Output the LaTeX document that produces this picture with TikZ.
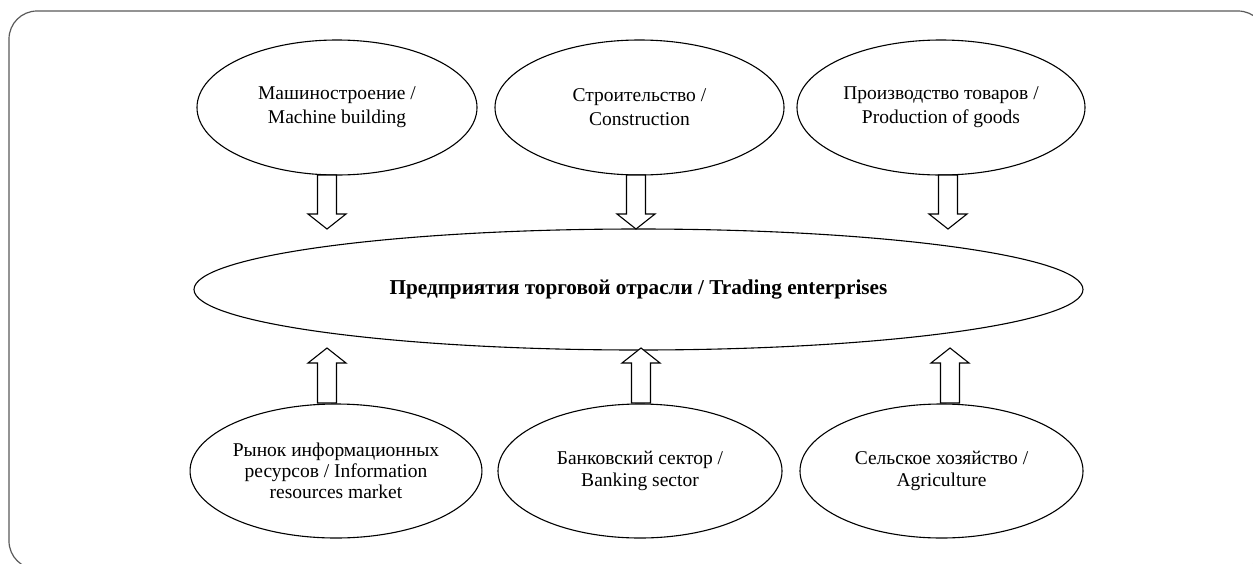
\documentclass[tikz,border=0pt]{standalone}
\usepackage{fontspec}
\setmainfont{Liberation Serif}
\usetikzlibrary{shapes.geometric,calc}
\tikzset{
  ell/.style={ellipse, draw=black, line width=1.1pt, inner sep=0pt, align=center,
    font=\fontsize{19.5}{24}\selectfont},
  frame/.style={draw=black!65, line width=1.2pt, rounded corners=28pt},
  barrow/.style={draw=black, line width=1.1pt, fill=white, line join=miter},
}
\newcommand\blockarr[2]{%
  \coordinate (hb) at ($(#2)!15pt!(#1)$);
  \draw[barrow] ($(#1)+(-9.5,0)$) -- ($(hb)+(-9.5,0)$) -- ($(hb)+(-19,0)$) -- (#2)
    -- ($(hb)+(19,0)$) -- ($(hb)+(9.5,0)$) -- ($(#1)+(9.5,0)$) -- cycle;}
\begin{document}
\begin{tikzpicture}[x=1pt,y=-1pt]
\useasboundingbox (0,0) rectangle (1253,563);
\draw[frame] (9,11) rectangle (1266,569);
% top ellipses
\node[ell, minimum width=280pt, minimum height=135pt] (t1) at (337,107.5) {Машиностроение /\\Machine building};
\node[ell, minimum width=289pt, minimum height=135pt] (t2) at (639.5,107.5) {Строительство /\\Construction};
\node[ell, minimum width=288pt, minimum height=135pt] (t3) at (941,107.5) {Производство товаров /\\Production of goods};
% central ellipse
\node[ell, minimum width=889pt, minimum height=121pt, font=\fontsize{21.2}{24}\selectfont\bfseries] (c) at (638.5,289.5) {Предприятия торговой отрасли / Trading enterprises};
% bottom ellipses
\node[ell, minimum width=288pt, minimum height=134pt, font=\fontsize{19.5}{21}\selectfont] (b1) at (336,471) {Рынок информационных\\ресурсов / Information\\resources market};
\node[ell, minimum width=284pt, minimum height=134pt, font=\fontsize{19.5}{22}\selectfont] (b2) at (640,471) {Банковский сектор /\\Banking sector};
\node[ell, minimum width=283pt, minimum height=134pt, font=\fontsize{19.5}{22}\selectfont] (b3) at (941.5,471) {Сельское хозяйство /\\Agriculture};
% arrow ends
\coordinate (a1s) at (327,175);   \coordinate (a1e) at (327,229);
\coordinate (a2s) at (636,175);   \coordinate (a2e) at (636,229);
\coordinate (a3s) at (948,175);   \coordinate (a3e) at (948,229);
\coordinate (a4s) at (327,403);   \coordinate (a4e) at (327,348);
\coordinate (a5s) at (641,403);   \coordinate (a5e) at (641,348);
\coordinate (a6s) at (950,403);   \coordinate (a6e) at (950,348);
\blockarr{a1s}{a1e}
\blockarr{a2s}{a2e}
\blockarr{a3s}{a3e}
\blockarr{a4s}{a4e}
\blockarr{a5s}{a5e}
\blockarr{a6s}{a6e}
\end{tikzpicture}
\end{document}
